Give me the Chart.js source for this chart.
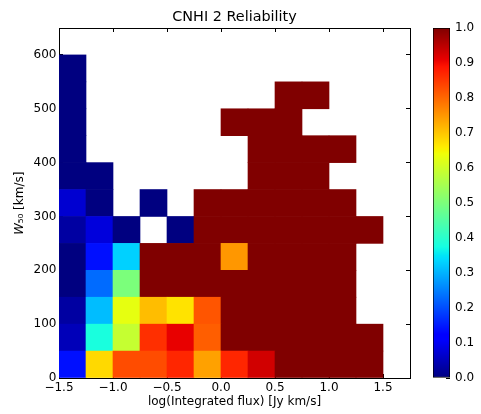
<!DOCTYPE html>
<html>
<head>
<meta charset="utf-8">
<script src="https://cdn.jsdelivr.net/npm/chart.js@4.4.0/dist/chart.umd.min.js"></script>
<style>
  body { margin: 0; background: #fff; }
  #wrap { position: relative; width: 481px; height: 414px; }
  canvas { position: absolute; top: 0; }
  #heat { left: 0; }
  #cbar { left: 433px; }
</style>
</head>
<body>
<div id="wrap">
  <canvas id="heat" width="481" height="414"></canvas>
  <canvas id="cbar" width="48" height="414"></canvas>
</div>
<script>
// bin edges
var fluxEdges = [-1.5, -1.25, -1.0, -0.75, -0.5, -0.25, 0.0, 0.25, 0.5, 0.75, 1.0, 1.25, 1.5];
var widthEdges = [0, 50, 100, 150, 200, 250, 300, 350, 400, 450, 500, 550, 600];

// reliability per W50 row (bottom to top), one value per flux bin, null = empty
var w0   = [0.14, 0.68, 0.83, 0.83, 0.87, 0.74, 0.87, 0.93, 1, 1, 1, 1];
var w50  = [0.05, 0.38, 0.59, 0.86, 0.91, 0.81, 1, 1, 1, 1, 1, 1];
var w100 = [0.03, 0.31, 0.63, 0.71, 0.67, 0.82, 1, 1, 1, 1, 1, null];
var w150 = [0.0, 0.23, 0.5, 1, 1, 1, 1, 1, 1, 1, 1, null];
var w200 = [0.0, 0.14, 0.33, 1, 1, 1, 0.75, 1, 1, 1, 1, null];
var w250 = [0.03, 0.08, 0.0, null, 0.0, 1, 1, 1, 1, 1, 1, 1];
var w300 = [0.07, 0.0, null, 0.0, null, 1, 1, 1, 1, 1, 1, null];
var w350 = [0.0, 0.0, null, null, null, null, null, 1, 1, 1, null, null];
var w400 = [0.0, null, null, null, null, null, null, 1, 1, 1, 1, null];
var w450 = [0.0, null, null, null, null, null, 1, 1, 1, null, null, null];
var w500 = [0.0, null, null, null, null, null, null, null, 1, 1, null, null];
var w550 = [0.0, null, null, null, null, null, null, null, null, null, null, null];
var rows = [w0, w50, w100, w150, w200, w250, w300, w350, w400, w450, w500, w550];

var xTickValues = [-1.5, -1.0, -0.5, 0.0, 0.5, 1.0, 1.5];
var yTickValues = [0, 100, 200, 300, 400, 500, 600];
var cbarTickValues = [0.0, 0.1, 0.2, 0.3, 0.4, 0.5, 0.6, 0.7, 0.8, 0.9, 1.0];

// matplotlib jet
function interp(pts, v) {
    for (var i = 1; i < pts.length; i++) {
        if (v <= pts[i][0]) {
            var t = (v - pts[i - 1][0]) / (pts[i][0] - pts[i - 1][0]);
            return pts[i - 1][1] + t * (pts[i][1] - pts[i - 1][1]);
        }
    }
    return pts[pts.length - 1][1];
}
function jet(v) {
    var r = interp([[0, 0], [0.35, 0], [0.66, 1], [0.89, 1], [1, 0.5]], v);
    var g = interp([[0, 0], [0.125, 0], [0.375, 1], [0.64, 1], [0.91, 0], [1, 0]], v);
    var b = interp([[0, 0.5], [0.11, 1], [0.34, 1], [0.65, 0], [1, 0]], v);
    return 'rgb(' + Math.round(r * 255) + ',' + Math.round(g * 255) + ',' + Math.round(b * 255) + ')';
}
var jetStops = [0, 0.11, 0.125, 0.34, 0.35, 0.375, 0.64, 0.65, 0.66, 0.89, 0.91, 1];

function minus(v) {
    return v.toFixed(1).replace('-', '\u2212');
}

function tickMarks() {
    return {
        display: true,
        drawOnChartArea: false,
        drawTicks: true,
        tickLength: -4,
        tickColor: '#000',
        tickWidth: 1,
        offset: false
    };
}

function setTicks(values) {
    return function(scale) {
        scale.ticks = values.map(function(v) { return { value: v }; });
    };
}

Chart.defaults.font.family = 'DejaVu Sans';
Chart.defaults.font.size = 12;
Chart.defaults.color = '#000';

var datasets = rows.map(function(row, r) {
    var points = [];
    var colors = [];
    row.forEach(function(val, c) {
        if (val === null) return;
        points.push({ x: (fluxEdges[c] + fluxEdges[c + 1]) / 2, y: [widthEdges[r], widthEdges[r + 1]] });
        colors.push(jet(val));
    });
    return {
        data: points,
        backgroundColor: colors,
        borderWidth: 0,
        barPercentage: 1,
        categoryPercentage: 1
    };
});

var border = { display: true, color: '#000', width: 1 };

var heat = new Chart(document.getElementById('heat').getContext('2d'), {
    type: 'bar',
    data: { datasets: datasets },
    options: {
        responsive: false,
        animation: false,
        layout: { padding: { right: 71 } },
        plugins: { legend: { display: false }, tooltip: { enabled: false } },
        scales: {
            x: {
                type: 'linear', position: 'bottom', min: -1.5, max: 1.75,
                stacked: true, offset: false,
                grid: tickMarks(), border: border,
                afterBuildTicks: setTicks(xTickValues),
                afterFit: function(scale) { scale.height = 36; },
                ticks: { padding: 7, maxRotation: 0, autoSkip: false, callback: function(v) { return minus(v); } },
                title: { display: true, text: 'log(Integrated flux) [Jy km/s]', font: { size: 12 }, padding: { top: 0, bottom: 5 } }
            },
            y: {
                type: 'linear', position: 'left', min: 0, max: 650,
                stacked: false,
                grid: tickMarks(), border: border,
                afterBuildTicks: setTicks(yTickValues),
                afterFit: function(scale) { scale.width = 59; },
                ticks: { padding: 6.5, callback: function(v) { return String(v); } },
                title: { display: true, text: '\uD835\uDC4A\u2085\u2080 [km/s]', font: { size: 12 }, padding: { top: 13, bottom: 0 } }
            },
            x2: {
                axis: 'x', type: 'linear', position: 'top', min: -1.5, max: 1.75, offset: false,
                grid: tickMarks(), border: border,
                afterBuildTicks: setTicks(xTickValues),
                afterFit: function(scale) { scale.height = 28; },
                ticks: { display: false },
                title: { display: true, text: 'CNHI 2 Reliability', font: { size: 14.4 }, padding: { top: 8.4, bottom: 0 } }
            },
            y2: {
                axis: 'y', type: 'linear', position: 'right', min: 0, max: 650,
                grid: tickMarks(), border: border,
                afterBuildTicks: setTicks(yTickValues),
                afterFit: function(scale) { scale.width = 0; },
                ticks: { display: false }
            }
        }
    }
});

var cbar = new Chart(document.getElementById('cbar').getContext('2d'), {
    type: 'bar',
    data: {
        labels: [''],
        datasets: [{
            data: [[cbarTickValues[0], cbarTickValues[cbarTickValues.length - 1]]],
            backgroundColor: function(ctx) {
                var area = ctx.chart.chartArea;
                if (!area) return null;
                var g = ctx.chart.ctx.createLinearGradient(0, area.bottom, 0, area.top);
                jetStops.forEach(function(s) { g.addColorStop(s, jet(s)); });
                return g;
            },
            borderColor: '#000',
            borderWidth: 1,
            borderSkipped: false,
            barPercentage: 1,
            categoryPercentage: 1
        }]
    },
    options: {
        responsive: false,
        animation: false,
        layout: { padding: { top: 28, bottom: 36 } },
        plugins: { legend: { display: false }, tooltip: { enabled: false } },
        scales: {
            x: { display: false },
            y: {
                position: 'right', min: 0, max: 1,
                grid: tickMarks(), border: { display: false },
                afterBuildTicks: setTicks(cbarTickValues),
                afterFit: function(scale) { scale.width = 31; },
                ticks: { padding: 9, callback: function(v) { return v.toFixed(1); } }
            }
        }
    }
});
</script>
</body>
</html>
